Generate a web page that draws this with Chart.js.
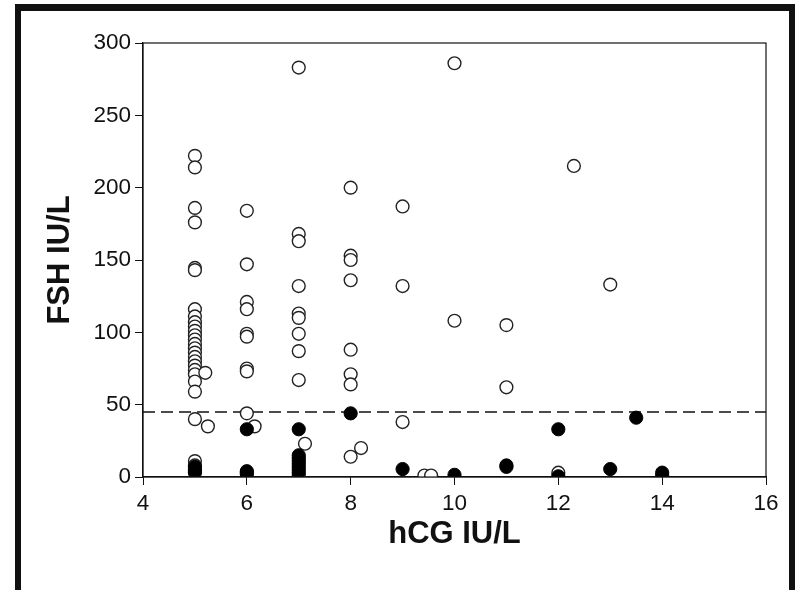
<!DOCTYPE html>
<html>
<head>
<meta charset="utf-8">
<script src="https://cdn.jsdelivr.net/npm/chart.js@4.4.1/dist/chart.umd.min.js"></script>
<style>
  html, body { margin: 0; padding: 0; background: #fff; }
  #frame { position: absolute; left: 15px; top: 4px; width: 780px; height: 620px;
           box-sizing: border-box; border-left: 6px solid #111; border-top: 7px solid #111;
           border-right: 6px solid #111; }
  #wrap { position: absolute; left: 0; top: 0; width: 803px; height: 590px; }
</style>
</head>
<body>
<div id="frame"></div>
<div id="wrap"><canvas id="c" width="803" height="590"></canvas></div>
<script>
// Open circles (hCG IU/L, FSH IU/L)
const openX = [
  5,5,5,5,5,5,
  5,5,5,5,5,5,5,5,5,5,5,5,5,5,5,5,5,
  5.2,5,5.25,5,5,
  6,6,6,6,6,6,6,6,6,6.15,
  7,7,7,7,7,7,7,7,7,7.12,7,
  8,8,8,8,8,8,8,8,8.2,
  9,9,9,9.42,9.55,
  10,10,
  11,11,
  12,12.3,
  13
];
const openY = [
  222,214,186,176,144.5,143,
  116,111,107,104,101,98,95,92,89,86,83,80,77,74,71,66,59,
  72,40,35,11,8,
  184,147,121,116,99,97,75,73,44,35,
  283,168,163,132,113,110,99,87,67,23,1,
  200,153,150,136,88,71,64,14,20,
  187,132,38,1,1,
  286,108,
  105,62,
  3,215,
  133
];
// Filled circles
const filledX = [
  5,5,5,5,
  6,6,6,6,
  7,7,7,7,7,7,7,7,
  8,
  9,
  10,
  11,11,
  12,12,
  13,13.5,
  14,14
];
const filledY = [
  7,5,4,3,
  33,4,3,2,
  33,15,13,11,9,7,5,3,
  44,
  5.5,
  1.5,
  8,7,
  33,0.5,
  5.5,41,
  3,1
];
const cutoffY = 45;
const xTicks = [4,6,8,10,12,14,16];
const yTicks = [0,50,100,150,200,250,300];

const toPts = (xs, ys) => xs.map((x, i) => ({x: x, y: ys[i]}));

const boxPlugin = {
  id: 'box',
  afterDatasetsDraw(chart) {
    const {ctx, chartArea: a} = chart;
    ctx.save();
    ctx.strokeStyle = '#111';
    ctx.lineWidth = 1.2;
    ctx.strokeRect(a.left, a.top, a.right - a.left, a.bottom - a.top);
    ctx.restore();
  }
};

new Chart(document.getElementById('c'), {
  type: 'scatter',
  data: {
    datasets: [
      {
        type: 'line',
        data: [{x: xTicks[0], y: cutoffY}, {x: xTicks[xTicks.length - 1], y: cutoffY}],
        borderColor: '#111', borderWidth: 1.5, borderDash: [12, 6],
        pointRadius: 0, fill: false, order: 3
      },
      {
        data: toPts(openX, openY),
        pointRadius: 6.4, pointBackgroundColor: '#fff', pointBorderColor: '#222',
        pointBorderWidth: 1.4, order: 2
      },
      {
        data: toPts(filledX, filledY),
        pointRadius: 6.6, pointBackgroundColor: '#000', pointBorderColor: '#000',
        pointBorderWidth: 1, order: 1
      }
    ]
  },
  options: {
    responsive: false,
    animation: false,
    events: [],
    layout: { padding: { top: 43, right: 37, bottom: 0, left: 0 } },
    plugins: { legend: { display: false }, tooltip: { enabled: false } },
    scales: {
      x: {
        type: 'linear', min: 4, max: 16,
        afterBuildTicks: s => { s.ticks = xTicks.map(v => ({value: v})); },
        afterFit: s => { s.height = 113; },
        grid: { drawOnChartArea: false, drawTicks: true, tickLength: 8, color: '#111', lineWidth: 1 },
        border: { display: true, color: '#111', width: 1.2 },
        ticks: { color: '#111', font: { family: 'Liberation Sans', size: 22.5 }, padding: 5, maxRotation: 0 },
        title: { display: true, text: 'hCG IU/L', color: '#111',
                 font: { family: 'Liberation Sans', size: 31, weight: 'bold' },
                 padding: { top: 0, bottom: 37 } }
      },
      y: {
        type: 'linear', min: 0, max: 300,
        afterBuildTicks: s => { s.ticks = yTicks.map(v => ({value: v})); },
        afterFit: s => { s.width = 143; },
        grid: { drawOnChartArea: false, drawTicks: true, tickLength: 8, color: '#111', lineWidth: 1 },
        border: { display: true, color: '#111', width: 1.2 },
        ticks: { color: '#111', font: { family: 'Liberation Sans', size: 22.5 }, padding: 4 },
        title: { display: true, text: 'FSH IU/L', color: '#111',
                 font: { family: 'Liberation Sans', size: 31, weight: 'bold' },
                 padding: { top: 42, bottom: 0 } }
      }
    }
  },
  plugins: [boxPlugin]
});
</script>
</body>
</html>
